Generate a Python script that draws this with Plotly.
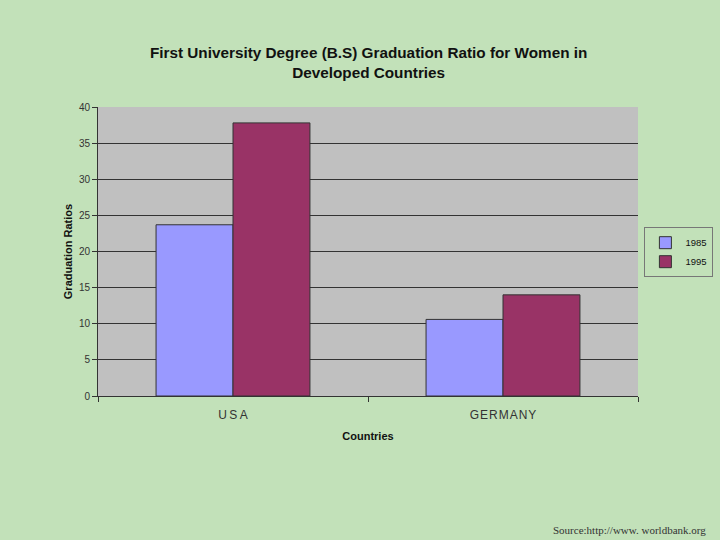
import plotly.graph_objects as go

categories = ["USA", "GERMANY"]
tick_labels = ["U\u2009S\u2009A", "G\u200aE\u200aR\u200aM\u200aA\u200aN\u200aY"]
years = ["1985", "1995"]
values_1985 = [23.7, 10.6]
values_1995 = [37.8, 14.0]
colors = ["#9999ff", "#993366"]

fig = go.Figure()
for name, vals, col in zip(years, [values_1985, values_1995], colors):
    fig.add_trace(go.Bar(
        x=categories, y=vals, name=name,
        marker=dict(color=col, line=dict(color="#333333", width=1)),
    ))

fig.update_layout(
    width=720, height=540,
    paper_bgcolor="#c2e1b9",
    plot_bgcolor="#c0c0c0",
    barmode="group", bargap=0.43, bargroupgap=0,
    margin=dict(l=98, r=82, t=107, b=144, autoexpand=False),
    title=dict(
        text="<b>First University Degree (B.S) Graduation Ratio for Women in<br>Developed Countries</b>",
        x=0.512, xanchor="center", y=0.892, yanchor="middle",
        font=dict(family="Liberation Sans, Arial", size=15.3, color="#111111"),
    ),
    font=dict(family="Liberation Sans, Arial", color="#222222"),
    legend=dict(
        xref="container", yref="container",
        x=0.895, xanchor="left", y=0.533, yanchor="middle",
        bgcolor="rgba(0,0,0,0)", bordercolor="#777777", borderwidth=1,
        font=dict(size=9.5, color="#111111"), traceorder="normal",
        itemwidth=30, tracegroupgap=0,
    ),
    xaxis=dict(
        tickmode="array", tickvals=categories, ticktext=tick_labels,
        tickson="boundaries", ticks="outside", ticklen=5, tickcolor="#333333",
        showline=True, linecolor="#333333", linewidth=1,
        tickfont=dict(size=12, color="#333333"), ticklabelstandoff=8,
        title=dict(text="<b>Countries</b>", font=dict(size=11, color="#111111"), standoff=10),
    ),
    yaxis=dict(
        range=[0, 40], dtick=5, ticks="outside", ticklen=5, tickcolor="#333333",
        showline=True, linecolor="#333333", linewidth=1,
        showgrid=True, gridcolor="#333333", gridwidth=1, zeroline=False,
        tickfont=dict(size=10, color="#333333"),
        title=dict(text="<b>Graduation Ratios</b>", font=dict(size=11, color="#111111"), standoff=4),
    ),
    annotations=[dict(
        text="Source:http://www. worldbank.org", xref="paper", yref="paper",
        x=1.13, y=-0.464, xanchor="right", yanchor="middle", showarrow=False,
        font=dict(family="Liberation Serif, Times New Roman", size=11, color="#333333"),
    )],
)

fig.write_html("out.html", config={"displayModeBar": False},
               post_script="document.body.style.margin='0';")
